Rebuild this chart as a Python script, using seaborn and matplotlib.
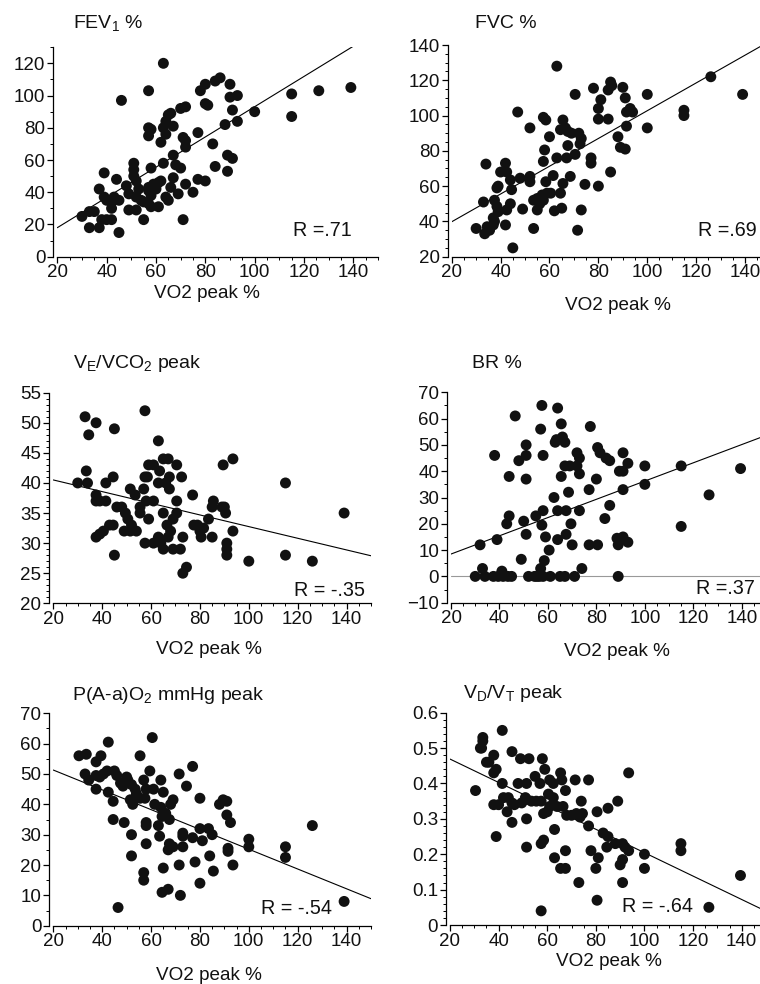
import matplotlib
matplotlib.use("Agg")
import matplotlib.pyplot as plt
import seaborn as sns
from matplotlib.ticker import MultipleLocator, FuncFormatter

# ---- data (VO2 peak % on x) ----
fev1_x = [63, 46, 57, 78, 80, 84, 86, 90, 90, 93,
          91, 93, 88, 100, 115, 115, 126, 139, 80, 81,
          57, 58, 57, 65, 66, 64, 63, 64, 62, 67,
          70, 72, 71, 72, 72, 77, 83, 67, 68, 70,
          63, 58, 84, 89, 91, 89, 51, 51, 51, 52,
          39, 44, 48, 49, 53, 37, 39, 40, 42, 43,
          45, 42, 57, 59, 60, 61, 62, 52, 54, 55,
          57, 57, 52, 58, 61, 49, 64, 65, 67, 66,
          69, 72, 75, 77, 80, 71, 55, 45, 30, 33,
          35, 33, 37, 38, 40, 42, 60, 58]
fev1_y = [120, 97, 103, 103, 107, 109, 111, 107, 99, 100,
          91, 84, 82, 90, 101, 87, 103, 105, 95, 94,
          80, 79, 75, 88, 89, 84, 80, 76, 71, 81,
          92, 93, 74, 72, 68, 77, 70, 63, 57, 55,
          58, 55, 56, 63, 61, 53, 58, 54, 50, 47,
          52, 48, 44, 39, 42, 42, 37, 35, 34, 37,
          35, 30, 43, 45, 44, 46, 47, 37, 35, 34,
          33, 41, 29, 31, 31, 29, 37, 35, 49, 43,
          39, 45, 40, 48, 47, 23, 23, 15, 25, 28,
          28, 18, 18, 23, 23, 23, 42, 38]

fvc_x = [63, 47, 52, 70.5, 78, 85, 85.5, 84, 81, 80,
         80, 84, 90, 91, 93, 91.5, 94, 91.5, 100, 100,
         115, 115, 126, 139, 88, 89, 91, 85, 80, 77,
         77, 74.5, 73, 71.5, 57.5, 58.5, 65.5, 64.5, 66.5, 67.5,
         69, 72, 73, 72.5, 60, 67.5, 67, 70.5, 63, 58,
         57.5, 58.5, 61.5, 68.5, 65.5, 64.5, 65, 62, 59, 57.5,
         56, 55, 53.5, 49, 53.5, 45, 52, 52, 48, 44.5,
         42, 42.5, 44, 40, 38.5, 39, 34, 33, 37.5, 38.5,
         39, 37, 42.5, 44, 42, 37.5, 37, 30, 33.5, 34.5,
         35.5, 55, 57, 60.5]
fvc_y = [128, 102, 93, 112, 115.5, 119, 117, 114.5, 109, 104,
         98, 98, 116, 110, 104, 102, 102, 94, 112, 93,
         103, 100, 122, 112, 88, 82, 81, 68, 60, 76,
         73, 61, 46.5, 35, 99, 97.5, 97.5, 92, 93, 91,
         90, 90, 87, 84, 88, 83, 76, 78, 76, 80.5,
         74, 62.5, 66, 65.5, 61.5, 56, 47.5, 46, 56, 52,
         50, 46.5, 52, 47, 36, 25, 65.5, 62.5, 64.5, 58,
         73, 68, 63.5, 68, 59, 60, 72.5, 51, 52, 48.5,
         45.5, 42, 46.5, 50, 38, 40, 38, 36, 33, 37,
         35, 53, 55, 56]

ve_x = [57.5, 33, 37.5, 34.5, 45, 63, 33.5, 34, 30, 44.5,
        41.5, 59, 61, 63.5, 65, 67, 70.5, 72.5, 67.5, 63,
        66, 67.5, 57.5, 58.5, 57, 51.5, 53.5, 61, 58, 70.5,
        77, 37.5, 39, 41.5, 37.5, 46, 48, 55.5, 55.5, 59,
        49.5, 50.5, 52, 54, 51.5, 49, 43, 44.5, 40.5, 39,
        37.5, 45, 57.5, 61, 63, 64, 65, 65, 66.5, 68,
        67, 69, 70.5, 69, 72, 73, 73, 74.5, 77.5, 79,
        80, 80.5, 81.5, 83.5, 85, 85.5, 85, 89, 90, 90.5,
        89.5, 93.5, 91, 91, 91, 93.5, 100, 115, 115, 126,
        139]
ve_y = [52, 51, 50, 48, 49, 47, 42, 40, 40, 41,
        40, 43, 43, 42, 44, 44, 43, 41, 41, 40,
        40, 39, 41, 41, 39, 39, 38, 37, 37, 37,
        38, 38, 37, 37, 37, 36, 36, 36, 35, 34,
        35, 34, 33, 32, 32, 32, 33, 33, 32, 31.5,
        31, 28, 30, 30, 31, 30, 29, 35, 33, 32,
        31, 34, 35, 29, 29, 31, 25, 26, 33, 33,
        32, 31, 32.5, 34, 36, 37, 31, 36, 36, 35,
        43, 44, 30, 29, 28, 32, 27, 40, 28, 27,
        35]

br_x = [57.5, 64, 46.5, 57, 65.5, 77.5, 63.5, 66, 67, 63,
        51, 38, 48, 51, 58, 80.5, 81.5, 72, 73, 72,
        67, 69, 73, 84, 85.5, 91, 89.5, 91, 93, 100,
        100, 80, 77, 68.5, 91, 65.5, 51, 44, 62.5, 115,
        126.5, 139.5, 115, 58, 55, 57.5, 64, 67.5, 73, 85.5,
        83.5, 69.5, 44, 43, 50, 51, 59, 64, 67.5, 70,
        77, 80.5, 88.5, 91, 93, 89, 60.5, 58.5, 49, 39,
        32, 33, 41, 74, 57, 30, 34, 37.5, 39.5, 41.5,
        45, 52, 54.5, 56.5, 58, 61, 65, 67, 71, 89,
        43.5, 55.5]
br_y = [65, 64, 61, 56, 58, 57, 52, 53, 51, 51,
        50, 46, 44, 46, 46, 49, 47, 47, 45, 42,
        42, 42, 39, 45, 44, 47, 40, 40, 43, 42,
        35, 37, 33, 32, 33, 38, 37, 38, 30, 42,
        31, 41, 19, 25, 23, 19.5, 25, 25, 25, 27,
        22, 20, 23, 20, 21, 16, 15, 14, 16, 12,
        12, 12, 14.5, 15, 13, 12, 10, 6, 6.5, 14,
        12, 3, 2, 3, 3, 0, 0, 0, 0, 0,
        0, 0, 0, 0, 0, 0, 0, 0, 0, 0,
        0, 0]

pao2_x = [60.5, 42.5, 30.5, 33.5, 39.5, 55.5, 37.5, 77, 59.5, 33,
          34.5, 37.5, 39, 40.5, 42, 45, 46, 50, 50.5, 37.5,
          42.5, 44.5, 44.5, 49, 52, 52, 47.5, 48.5, 52, 53.5,
          54, 51.5, 52.5, 55.5, 57.5, 58, 57, 61, 61.5, 64,
          65, 64, 66, 64.5, 67.5, 68, 69, 71.5, 74.5, 58,
          58, 63, 58, 63.5, 73, 73, 67.5, 69, 67, 73,
          77, 71.5, 78, 80, 80, 81, 83.5, 85, 84, 85.5,
          80, 65, 64.5, 67, 72, 57, 57, 46.5, 88, 89.5,
          91, 91, 92.5, 91.5, 91.5, 93.5, 100, 100, 115, 115,
          126, 139]
pao2_y = [62, 60.5, 56, 56.5, 56, 56, 54, 52.5, 51, 50,
          48, 49.5, 49, 50, 51, 51, 49.5, 49, 48, 45,
          44, 41, 35, 34, 30, 23, 47, 46, 46.5, 45,
          43.5, 41.5, 40, 42, 42, 45, 48, 45, 40, 48,
          44, 39, 37, 36, 35, 40, 41.5, 50, 46, 33,
          34, 33, 27, 29.5, 30.5, 29.5, 27, 26, 25, 26,
          29, 20, 21, 42, 32, 28, 32, 30, 23, 18,
          14, 19, 11, 12, 10, 17.5, 15, 6, 40, 41.5,
          41, 36.5, 34, 25.5, 24.5, 20, 28.5, 26, 26, 22.5,
          33, 8]

vdvt_x = [41.5, 33.5, 33.5, 32.5, 33, 45.5, 49, 52.5, 58, 59,
          65.5, 93.5, 38, 36, 39, 38, 35, 30.5, 41.5, 48,
          51.5, 55, 57, 61, 62.5, 66, 67.5, 71.5, 77, 38,
          40, 42, 44, 45.5, 46.5, 51, 51.5, 49.5, 53.5, 55.5,
          57.5, 60.5, 62.5, 61, 58.5, 60, 64, 66.5, 68, 70,
          72, 73.5, 74.5, 74, 85, 89, 80.5, 43.5, 45.5, 51.5,
          39, 77, 63, 83, 85, 58.5, 57.5, 51.5, 67.5, 63,
          78, 81, 84.5, 88, 91, 92, 93.5, 91, 90, 100,
          100, 65.5, 67.5, 80, 73, 91, 80.5, 57.5, 115, 115,
          126.5, 139.5]
vdvt_y = [0.55, 0.53, 0.52, 0.50, 0.50, 0.49, 0.47, 0.47, 0.47, 0.44,
          0.43, 0.43, 0.48, 0.46, 0.44, 0.43, 0.46, 0.38, 0.40, 0.40,
          0.40, 0.42, 0.40, 0.41, 0.40, 0.41, 0.38, 0.41, 0.41, 0.34,
          0.34, 0.36, 0.36, 0.345, 0.34, 0.36, 0.355, 0.345, 0.35, 0.35,
          0.35, 0.37, 0.36, 0.335, 0.315, 0.32, 0.335, 0.335, 0.31, 0.31,
          0.315, 0.305, 0.315, 0.35, 0.33, 0.35, 0.32, 0.32, 0.29, 0.30,
          0.25, 0.28, 0.27, 0.26, 0.25, 0.24, 0.23, 0.22, 0.21, 0.19,
          0.21, 0.19, 0.22, 0.23, 0.23, 0.22, 0.21, 0.185, 0.17, 0.20,
          0.16, 0.16, 0.16, 0.16, 0.12, 0.12, 0.07, 0.04, 0.23, 0.21,
          0.05, 0.14]

# fitted regression lines as drawn: value at VO2 = 20 and at VO2 = 150
fit_x = [20, 150]
fit_lo = [18, 39.8, 40.5, 8.5, 51.3, 0.469]
fit_hi = [140, 142.1, 27.9, 53.6, 8.9, 0.039]

titles = ["FEV$_1$ %", "FVC %", "V$_E$/VCO$_2$ peak", "BR %",
          "P(A-a)O$_2$ mmHg peak", "V$_D$/V$_T$ peak"]
r_labels = ["R =.71", "R =.69", "R = -.35", "R =.37", "R = -.54", "R = -.64"]
xlabel = "VO2 peak %"

# ---- style ----
sns.set_theme(style="ticks")
plt.rcParams["font.family"] = ["Liberation Sans", "DejaVu Sans"]
plt.rcParams["mathtext.fontset"] = "custom"
plt.rcParams["mathtext.rm"] = "Liberation Sans"
plt.rcParams["mathtext.default"] = "regular"

W, H = 760, 984
fig = plt.figure(figsize=(7.6, 9.84), dpi=100)
ink = "#111111"

# pixel boxes: (x at 20, x at 150, y at top limit, y at bottom limit)
panels = [
    dict(x=fev1_x, y=fev1_y, box=(57.3, 378, 47.2, 256.7), ylim=(0, 130), maj=20, mnr=10),
    dict(x=fvc_x, y=fvc_y, box=(451.7, 769.5, 45, 256.7), ylim=(20, 140), maj=20, mnr=5),
    dict(x=ve_x, y=ve_y, box=(53.3, 371, 392.7, 603.3), ylim=(20, 55), maj=5, mnr=1),
    dict(x=br_x, y=br_y, box=(451, 766, 392.3, 602.7), ylim=(-10, 70), maj=10, mnr=5),
    dict(x=pao2_x, y=pao2_y, box=(53.3, 371, 713.3, 925.7), ylim=(0, 70), maj=10, mnr=5),
    dict(x=vdvt_x, y=vdvt_y, box=(450, 766, 712.7, 925), ylim=(0, 0.6), maj=0.1, mnr=0.02),
]
title_pos = [(73, 23), (475, 23), (73, 363), (472, 363), (72, 695), (463, 693)]
xlab_pos = [(207, 293), (618, 305), (209, 650), (617, 652), (209, 976), (609, 962)]
r_pos = [(352, 230), (757, 231), (365, 590), (755, 588), (332, 908), (693, 907)]

for i, p in enumerate(panels):
    x0, x1, yt, yb = p["box"]
    ax = fig.add_axes([x0 / W, 1 - yb / H, (x1 - x0) / W, (yb - yt) / H])
    if i == 3:
        ax.axhline(0, color="#999999", lw=0.8, zorder=1)
    sns.lineplot(x=fit_x, y=[fit_lo[i], fit_hi[i]], ax=ax, color="black", lw=0.8)
    sns.scatterplot(x=p["x"], y=p["y"], ax=ax, s=62, color=ink,
                    edgecolor="none", linewidth=0, zorder=3)
    ax.set_xlim(20, 150)
    ax.set_ylim(*p["ylim"])
    ax.xaxis.set_minor_locator(MultipleLocator(5))
    ax.set_xticks(range(20, 141, 20))
    ax.yaxis.set_major_locator(MultipleLocator(p["maj"]))
    ax.yaxis.set_minor_locator(MultipleLocator(p["mnr"]))
    if i == 5:
        ax.yaxis.set_major_formatter(FuncFormatter(lambda v, _: "0" if abs(v) < 1e-9 else f"{v:.1f}"))
    sns.despine(ax=ax)
    ax.spines["left"].set_position(("outward", 3))
    for s in ("left", "bottom"):
        ax.spines[s].set_color("black")
        ax.spines[s].set_linewidth(0.9)
    ax.tick_params(which="major", direction="out", length=4, width=0.9,
                   color="black", labelsize=13.5, pad=1.5, labelcolor=ink)
    ax.tick_params(which="minor", direction="out", length=2, width=0.7, color="black")
    ax.set_xlabel("")
    ax.set_ylabel("")

    tx, ty = title_pos[i]
    fig.text(tx / W, 1 - ty / H, titles[i], ha="left", va="center", fontsize=14, color=ink)
    lx, ly = xlab_pos[i]
    fig.text(lx / W, 1 - ly / H, xlabel, ha="center", va="center", fontsize=13.6, color=ink)
    rx, ry = r_pos[i]
    fig.text(rx / W, 1 - ry / H, r_labels[i], ha="right", va="center", fontsize=14.2, color=ink)

fig.savefig("out.png", dpi=100)
